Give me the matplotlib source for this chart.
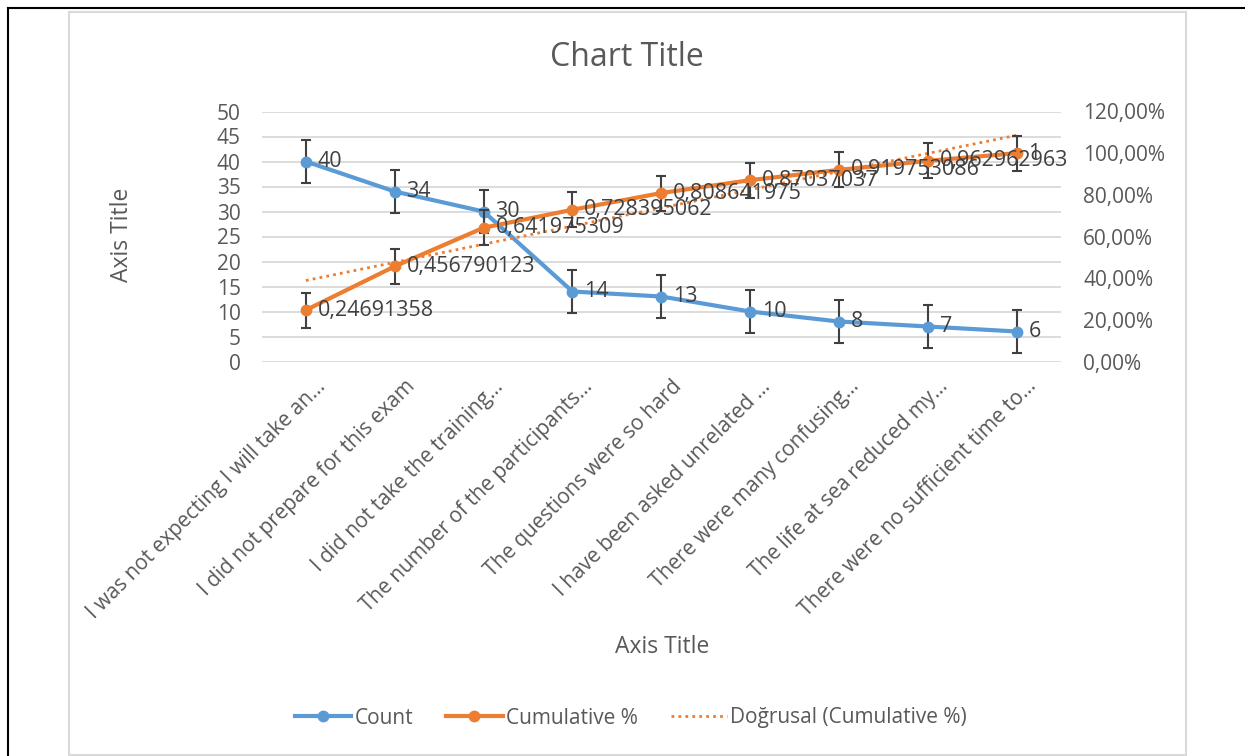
import matplotlib
matplotlib.use('Agg')
import matplotlib.pyplot as plt
import numpy as np
from matplotlib.transforms import ScaledTranslation
from matplotlib.lines import Line2D
from matplotlib.patches import Rectangle

categories = [
    "I was not expecting I will take an\u2026",
    "I did not prepare for this exam",
    "I did not take the training\u2026",
    "The number of the participants\u2026",
    "The questions were so hard",
    "I have been asked unrelated \u2026",
    "There were many confusing\u2026",
    "The life at sea reduced my\u2026",
    "There were no sufficient time to\u2026",
]
counts = [40, 34, 30, 14, 13, 10, 8, 7, 6]
cumulative = [0.24691358, 0.456790123, 0.641975309, 0.728395062, 0.808641975,
              0.87037037, 0.919753086, 0.962962963, 1.0]
count_err = 4.34
cum_err = 0.084
left_ticks = [0, 5, 10, 15, 20, 25, 30, 35, 40, 45, 50]
right_ticks = [0.0, 0.2, 0.4, 0.6, 0.8, 1.0, 1.2]
right_tick_labels = ["0,00%", "20,00%", "40,00%", "60,00%", "80,00%", "100,00%", "120,00%"]

plt.rcParams['font.family'] = ['Open Sans', 'DejaVu Sans']

W, H = 1245, 756
fig = plt.figure(figsize=(W / 100, H / 100), dpi=100)

TXT = '#595959'
LBL = '#404040'
BLUE = '#5B9BD5'
ORANGE = '#ED7D31'

ax_l, ax_r, ax_t, ax_b = 261.5, 1061, 111.5, 361.5
ax = fig.add_axes([ax_l / W, 1 - ax_b / H, (ax_r - ax_l) / W, (ax_b - ax_t) / H])
ax2 = ax.twinx()

x = np.arange(len(categories))

# grid
ax.set_ylim(0, 50)
ax.set_yticks(left_ticks)
ax.grid(axis='y', color='#D9D9D9', lw=1.3)
ax.set_axisbelow(True)
ax.set_xlim(-0.5, len(categories) - 0.5)
ax2.set_ylim(0, 1.2)
ax2.set_yticks(right_ticks)
ax2.set_yticklabels(right_tick_labels)

for a in (ax, ax2):
    for s in a.spines.values():
        s.set_visible(False)

ax.tick_params(axis='y', length=0, pad=15, labelsize=15, labelcolor=TXT)
ax2.tick_params(axis='y', length=0, pad=16, labelsize=15, labelcolor=TXT)
ax.tick_params(axis='x', length=0, pad=0, labelsize=15, labelcolor=TXT)

# series
ax.errorbar(x, counts, yerr=count_err, fmt='none', ecolor=LBL, elinewidth=1.5,
            capsize=3.8, capthick=1.5, zorder=3)
ax.plot(x, counts, color=BLUE, lw=3, marker='o', markersize=7.5, zorder=4)
for i, v in enumerate(counts):
    ax.annotate(str(v), (i, v), xytext=(8.5, 0), textcoords='offset points',
                ha='left', va='center', fontsize=15.5, color=LBL, zorder=5)

coef = np.polyfit(x, cumulative, 1)
trend = np.polyval(coef, x)
ax2.plot(x, trend, color=ORANGE, lw=2, linestyle=(0, (1, 1.5)), zorder=2)
ax2.errorbar(x, cumulative, yerr=cum_err, fmt='none', ecolor=LBL, elinewidth=1.5,
             capsize=3.8, capthick=1.5, zorder=3)
ax2.plot(x, cumulative, color=ORANGE, lw=3, marker='o', markersize=7.5, zorder=4)
for i, v in enumerate(cumulative):
    s = ('{:.9g}'.format(v)).replace('.', ',')
    ax2.annotate(s, (i, v), xytext=(8.5, 0), textcoords='offset points',
                 ha='left', va='center', fontsize=15.5, color=LBL, zorder=5)

# x tick labels
ax.set_xticks(x)
ax.set_xticklabels(categories, rotation=45, ha='right', va='center',
                   rotation_mode='anchor')
off = ScaledTranslation(0.17, -0.22, fig.dpi_scale_trans)
for lab in ax.get_xticklabels():
    lab.set_transform(lab.get_transform() + off)

# titles
fig.text(627 / W, 1 - 57 / H, 'Chart Title', fontsize=23, color=TXT,
         ha='center', va='center')
fig.text(122 / W, 1 - 235 / H, 'Axis Title', fontsize=16.5, color=TXT,
         ha='center', va='center', rotation=90)
fig.text(662 / W, 1 - 647 / H, 'Axis Title', fontsize=16.5, color=TXT,
         ha='center', va='center')

# legend
handles = [
    Line2D([], [], color=BLUE, lw=3, marker='o', markersize=7.5),
    Line2D([], [], color=ORANGE, lw=3, marker='o', markersize=7.5),
    Line2D([], [], color=ORANGE, lw=2, linestyle=(0, (1, 1.5))),
]
labels = ['Count', 'Cumulative %', 'Do\u011frusal (Cumulative %)']
leg = fig.legend(handles, labels, loc='center', bbox_to_anchor=(631 / W, 1 - 718 / H),
                 ncol=3, frameon=False, fontsize=15, handlelength=2.7,
                 handletextpad=0.15, columnspacing=1.6, markerfirst=True)
for t in leg.get_texts():
    t.set_color(TXT)

# borders
fig.add_artist(Rectangle((69 / W, 1 - 755 / H), (1186 - 69) / W, (755 - 12) / H,
                         transform=fig.transFigure, fill=False, ec='#D9D9D9', lw=1.5))
fig.add_artist(Line2D([8 / W, 8 / W], [0, 1 - 8 / H], transform=fig.transFigure,
                      color='black', lw=1.5))
fig.add_artist(Line2D([8 / W, 1], [1 - 8 / H, 1 - 8 / H], transform=fig.transFigure,
                      color='black', lw=1.5))

fig.savefig('out.png', dpi=100)
